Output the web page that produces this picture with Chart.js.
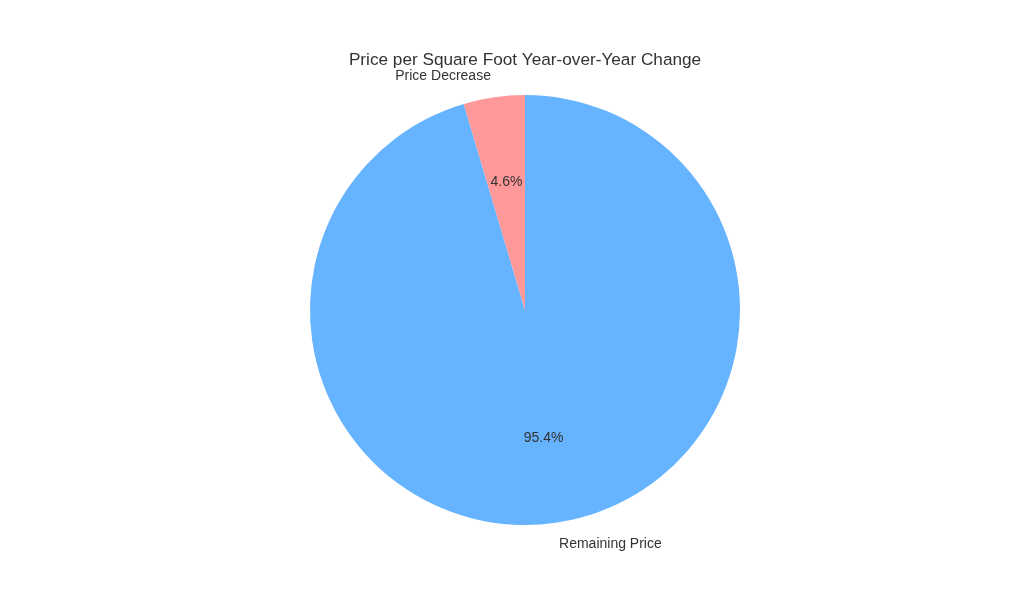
<!DOCTYPE html>
<html>
<head>
<meta charset="utf-8">
<title>Price per Square Foot Year-over-Year Change</title>
<script src="https://cdn.jsdelivr.net/npm/chart.js@4/dist/chart.umd.min.js"></script>
<style>
    html, body { margin: 0; padding: 0; background: #ffffff; }
    #wrap { width: 1024px; height: 614px; position: relative; }
</style>
</head>
<body>
<div id="wrap"><canvas id="pieChart"></canvas></div>
<script>
/* ---- data ---- */
const chartTitle = "Price per Square Foot Year-over-Year Change";
const sliceLabels = ["Remaining Price", "Price Decrease"];
const sliceValues = [95.4, 4.6];
const sliceColors = ["#66b3ff", "#ff9999"];

const textColor = "#333333";
const fontFamily = "'Liberation Sans', Arial, sans-serif";

/* draws title, outer labels and percentages, matplotlib style */
const pieTextPlugin = {
    id: "pieTextPlugin",
    afterDraw(chart) {
        const { ctx } = chart;
        const meta = chart.getDatasetMeta(0);
        const total = sliceValues.reduce((a, b) => a + b, 0);

        ctx.save();
        ctx.fillStyle = textColor;
        ctx.textBaseline = "middle";

        meta.data.forEach((arc, i) => {
            const mid = (arc.startAngle + arc.endAngle) / 2;
            const r = arc.outerRadius;
            const cos = Math.cos(mid), sin = Math.sin(mid);

            // outer label at 1.1 r
            ctx.font = `14px ${fontFamily}`;
            ctx.textAlign = cos < 0 ? "right" : "left";
            ctx.fillText(sliceLabels[i], arc.x + 1.1 * r * cos, arc.y + 1.1 * r * sin);

            // percentage at 0.6 r
            ctx.textAlign = "center";
            const pct = (sliceValues[i] / total * 100).toFixed(1) + "%";
            ctx.fillText(pct, arc.x + 0.6 * r * cos, arc.y + 0.6 * r * sin);
        });

        // title
        const cx = (chart.chartArea.left + chart.chartArea.right) / 2;
        ctx.font = `17.2px ${fontFamily}`;
        ctx.textAlign = "center";
        ctx.textBaseline = "alphabetic";
        ctx.fillText(chartTitle, cx, 65);
        ctx.restore();
    }
};

new Chart(document.getElementById("pieChart"), {
    type: "pie",
    data: {
        labels: sliceLabels,
        datasets: [{
            data: sliceValues,
            backgroundColor: sliceColors,
            borderWidth: 0
        }]
    },
    options: {
        responsive: true,
        maintainAspectRatio: false,
        animation: false,
        rotation: 0,
        layout: { padding: { top: 95, bottom: 89, left: 310, right: 284 } },
        plugins: {
            legend: { display: false },
            title: { display: false },
            tooltip: { enabled: false }
        }
    },
    plugins: [pieTextPlugin]
});
</script>
</body>
</html>
